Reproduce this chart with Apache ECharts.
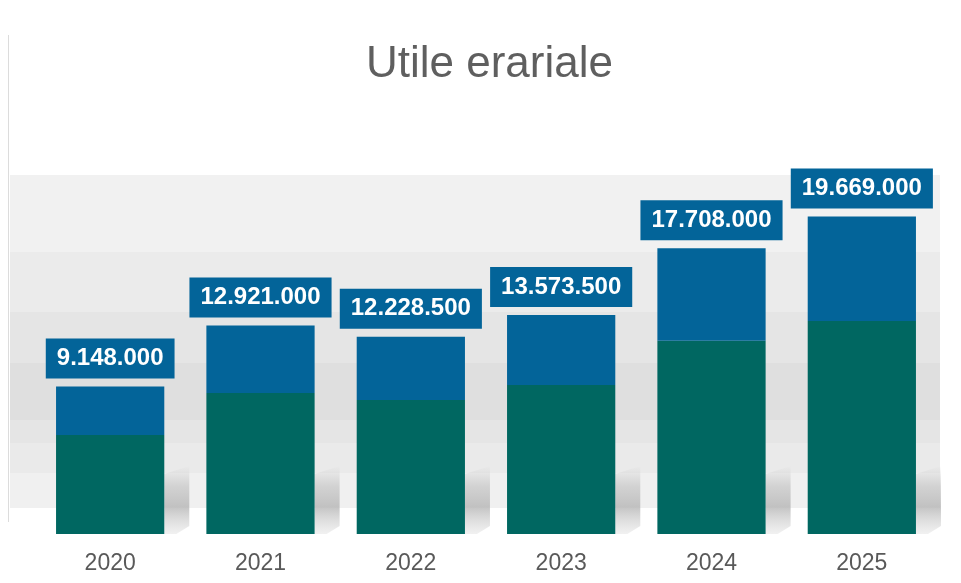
<!DOCTYPE html>
<html>
<head>
<meta charset="utf-8">
<script src="https://cdn.jsdelivr.net/npm/echarts@6/dist/echarts.min.js"></script>
<style>
html,body{margin:0;padding:0;background:#fff;}
#c{width:961px;height:583px;}
</style>
</head>
<body>
<div id="c"></div>
<script>
const categories = ['2020','2021','2022','2023','2024','2025'];
const totals = [9148000, 12921000, 12228500, 13573500, 17708000, 19669000];
const greenValues = [6140000, 8740000, 8310000, 9240000, 11970000, 13200000];
const blueValues = [3008000, 4181000, 3918500, 4333500, 5738000, 6469000];
const titleText = 'Utile erariale';

function fmt(v){ return String(Math.round(v)).replace(/\B(?=(\d{3})+(?!\d))/g, '.'); }

const chart = echarts.init(document.getElementById('c'), null, {renderer:'canvas'});
const BAR_RATIO = 0.72;

chart.setOption({
  animation: false,
  backgroundColor: '#ffffff',
  title: {
    text: titleText,
    left: 361,
    top: 38,
    textStyle: { fontFamily: 'Liberation Sans, Arial, sans-serif', fontSize: 44, fontWeight: 'normal', color: '#5f5f5f' }
  },
  graphic: [
    { type: 'line', z: -20, silent: true,
      shape: { x1: 8.5, y1: 35, x2: 8.5, y2: 522 },
      style: { stroke: '#dcdcdc', lineWidth: 1 } },
    { type: 'rect', z: -20, silent: true,
      shape: { x: 10, y: 175, width: 930, height: 333 },
      style: { fill: new echarts.graphic.LinearGradient(0, 0, 0, 1, [
        {offset: 0, color: '#f1f1f1'}, {offset: 0.231, color: '#f1f1f1'},
        {offset: 0.231, color: '#ebebeb'}, {offset: 0.411, color: '#ebebeb'},
        {offset: 0.411, color: '#e5e5e5'}, {offset: 0.565, color: '#e5e5e5'},
        {offset: 0.565, color: '#dfdfdf'}, {offset: 0.736, color: '#dfdfdf'},
        {offset: 0.736, color: '#e5e5e5'}, {offset: 0.805, color: '#e5e5e5'},
        {offset: 0.805, color: '#eaeaea'}, {offset: 0.895, color: '#eaeaea'},
        {offset: 0.895, color: '#f0f0f0'}, {offset: 1, color: '#f0f0f0'}
      ]) } }
  ],
  grid: { left: 35, right: 24, top: 179, bottom: 49, containLabel: false },
  xAxis: {
    type: 'category',
    data: categories,
    axisLine: { show: false },
    axisTick: { show: false },
    axisLabel: { fontFamily: 'Liberation Sans Narrow, Liberation Sans, Arial, sans-serif', fontSize: 23, color: '#595959', margin: 18 }
  },
  yAxis: {
    type: 'value', min: 0, max: 22000000,
    show: false, splitLine: { show: false }
  },
  series: [
    {
      type: 'custom',
      z: 1,
      silent: true,
      data: categories.map((c, i) => [i, totals[i]]),
      renderItem: function(params, api){
        const p = api.coord([api.value(0), 0]);
        const w = api.size([1, 0])[0] * BAR_RATIO;
        const r = p[0] + w / 2;
        const b = p[1];
        return {
          type: 'polygon',
          shape: { points: [[r, b - 60], [r + 25, b - 68], [r + 25, b - 8], [r + 12, b], [r, b]] },
          style: { fill: new echarts.graphic.LinearGradient(0, 0, 0, 1, [
            {offset: 0, color: 'rgba(190,190,190,0.0)'},
            {offset: 0.3, color: 'rgba(190,190,190,0.6)'},
            {offset: 0.6, color: 'rgba(185,185,185,0.85)'},
            {offset: 1, color: 'rgba(220,220,220,0.4)'}
          ]) }
        };
      }
    },
    {
      name: 'green', type: 'bar', stack: 'tot', z: 2,
      data: greenValues,
      barWidth: '72%',
      itemStyle: { color: '#006761' }
    },
    {
      name: 'blue', type: 'bar', stack: 'tot', z: 2,
      data: blueValues,
      barWidth: '72%',
      itemStyle: { color: '#036499' },
      label: {
        show: true,
        position: 'top',
        distance: 8,
        formatter: (p) => fmt(totals[p.dataIndex]),
        backgroundColor: '#036499',
        color: '#ffffff',
        fontFamily: 'Liberation Sans, Arial, sans-serif',
        fontWeight: 'bold',
        fontSize: 24,
        lineHeight: 24,
        padding: [8, 11, 8, 11]
      }
    }
  ]
});
</script>
</body>
</html>
